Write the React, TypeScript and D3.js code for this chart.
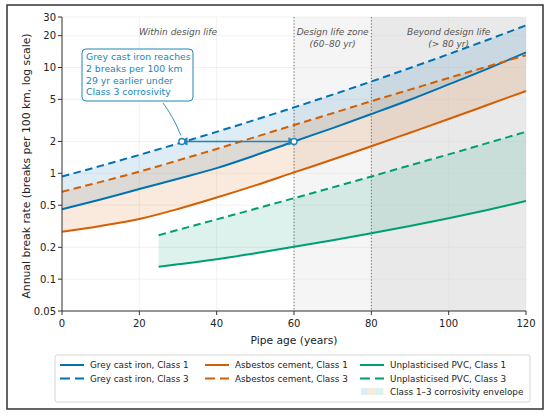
import * as d3 from "d3";

// pipe age (years) at which the break rates were read
const ages = [0, 10, 20, 30, 40, 50, 60, 70, 80, 90, 100, 110, 120];
const pvcAges = [25, 30, 40, 50, 60, 70, 80, 90, 100, 110, 120];

// breaks per 100 km per year
const ciClass1 = [0.457, 0.566, 0.711, 0.89, 1.12, 1.48, 2.0, 2.675, 3.63, 4.96, 6.92, 9.7, 13.9];
const ciClass3 = [0.933, 1.176, 1.494, 1.911, 2.465, 3.204, 4.196, 5.542, 7.375, 9.89, 13.37, 18.2, 25.0];
const acClass1 = [0.28, 0.318, 0.37, 0.46, 0.59, 0.769, 1.02, 1.35, 1.8, 2.42, 3.26, 4.42, 6.0];
const acClass3 = [0.67, 0.83, 1.037, 1.325, 1.7, 2.205, 2.86, 3.7, 4.8, 6.18, 7.96, 10.2, 13.06];
const pvcClass1 = [0.131, 0.138, 0.154, 0.176, 0.202, 0.233, 0.271, 0.318, 0.376, 0.451, 0.547];
const pvcClass3 = [0.26, 0.292, 0.367, 0.462, 0.582, 0.736, 0.933, 1.19, 1.51, 1.93, 2.47];

const xTicks = [0, 20, 40, 60, 80, 100, 120];
const yTicks = [0.05, 0.1, 0.2, 0.5, 1, 2, 5, 10, 20, 30];

const zoneEdges = [60, 80];
const annotationRate = 2;
const annotationAgeClass3 = 31;
const annotationAgeClass1 = 60;
const annotationLines = ["Grey cast iron reaches", "2 breaks per 100 km", "29 yr earlier under", "Class 3 corrosivity"];

const BLUE = "#0072B2";
const ORANGE = "#D55E00";
const GREEN = "#009E73";
const NOTE = "#2384b8";

const W = 550;
const H = 417;
const FONT = "DejaVu Sans, sans-serif";

interface Series {
  label: string;
  color: string;
  dashed: boolean;
  xs: number[];
  ys: number[];
}

const series: Series[] = [
  { label: "Grey cast iron, Class 1", color: BLUE, dashed: false, xs: ages, ys: ciClass1 },
  { label: "Grey cast iron, Class 3", color: BLUE, dashed: true, xs: ages, ys: ciClass3 },
  { label: "Asbestos cement, Class 1", color: ORANGE, dashed: false, xs: ages, ys: acClass1 },
  { label: "Asbestos cement, Class 3", color: ORANGE, dashed: true, xs: ages, ys: acClass3 },
  { label: "Unplasticised PVC, Class 1", color: GREEN, dashed: false, xs: pvcAges, ys: pvcClass1 },
  { label: "Unplasticised PVC, Class 3", color: GREEN, dashed: true, xs: pvcAges, ys: pvcClass3 },
];

const envelopes = [
  { color: BLUE, xs: ages, lo: ciClass1, hi: ciClass3 },
  { color: ORANGE, xs: ages, lo: acClass1, hi: acClass3 },
  { color: GREEN, xs: pvcAges, lo: pvcClass1, hi: pvcClass3 },
];

export default function App() {
  const margin = { top: 17, left: 62, right: 24, bottom: 106 };
  const x = d3.scaleLinear().domain([0, 120]).range([margin.left, W - margin.right]);
  const y = d3.scaleLog().domain([0.05, 30]).range([H - margin.bottom, margin.top]);
  const [x0, x1] = x.range();
  const [yb, yt] = y.range();

  const line = d3.line<[number, number]>()
    .x(d => x(d[0]))
    .y(d => y(d[1]))
    .curve(d3.curveMonotoneX);

  const area = d3.area<[number, number, number]>()
    .x(d => x(d[0]))
    .y0(d => y(d[1]))
    .y1(d => y(d[2]))
    .curve(d3.curveMonotoneX);

  // annotation geometry comes from the data scales
  const ay = y(annotationRate);
  const ax3 = x(annotationAgeClass3);
  const ax1 = x(annotationAgeClass1);

  const legendCols = [0, 2, 4].map((start, c) => ({ c, items: [series[start], series[start + 1]] }));
  const legendX = [60, 205, 360];
  const legendY = [365, 378.5, 391.5];

  return (
    <div style={{ position: "absolute", left: 0, top: 0 }}>
      <svg width={W} height={H} style={{ display: "block", fontFamily: FONT }}>
        <defs>
          <marker id="ah" viewBox="0 0 10 10" refX="2" refY="5" markerWidth="5.5" markerHeight="5.5" orient="auto-start-reverse">
            <path d="M0,0 L10,5 L0,10 z" fill={NOTE} />
          </marker>
        </defs>
        <rect x={0} y={0} width={W} height={H} fill="#fff" />
        <rect x={7} y={5} width={536} height={404} fill="none" stroke="#333" strokeWidth={1.5} />

        {/* design-life zones */}
        <rect x={x(zoneEdges[0])} y={yt} width={x(zoneEdges[1]) - x(zoneEdges[0])} height={yb - yt} fill="#f5f5f5" />
        <rect x={x(zoneEdges[1])} y={yt} width={x1 - x(zoneEdges[1])} height={yb - yt} fill="#e9e9e9" />

        {/* grid */}
        {yTicks.map(t => (
          <line key={"gy" + t} x1={x0} x2={x1} y1={y(t)} y2={y(t)} stroke="#d8d8d8" strokeWidth={0.6} strokeOpacity={0.55} />
        ))}
        {xTicks.map(t => (
          <line key={"gx" + t} x1={x(t)} x2={x(t)} y1={yt} y2={yb} stroke="#d8d8d8" strokeWidth={0.6} strokeOpacity={0.55} />
        ))}

        {zoneEdges.map(e => (
          <line key={"z" + e} x1={x(e)} x2={x(e)} y1={yt} y2={yb} stroke="#666" strokeWidth={1} strokeDasharray="1.2,2" />
        ))}

        {/* envelopes */}
        {envelopes.map((e, i) => (
          <path key={"env" + i} d={area(e.xs.map((a, k) => [a, e.lo[k], e.hi[k]] as [number, number, number])) || ""} fill={e.color} fillOpacity={0.13} />
        ))}

        {/* curves */}
        {series.map(s => (
          <path
            key={s.label}
            d={line(s.xs.map((a, k) => [a, s.ys[k]] as [number, number])) || ""}
            fill="none"
            stroke={s.color}
            strokeWidth={2}
            strokeDasharray={s.dashed ? "7.5,4.5" : undefined}
          />
        ))}

        {/* zone labels */}
        <g fontSize={9} fontStyle="italic" fill="#555" textAnchor="middle">
          <text x={x(30)} y={35}>Within design life</text>
          <text x={x(70)} y={35}>Design life zone</text>
          <text x={x(70)} y={46.5}>(60–80 yr)</text>
          <text x={x(100)} y={35}>Beyond design life</text>
          <text x={x(100)} y={46.5}>(&gt; 80 yr)</text>
        </g>

        {/* annotation */}
        <line x1={ax1 - 4} x2={ax3 + 4} y1={ay} y2={ay} stroke={NOTE} strokeWidth={1.5} markerEnd="url(#ah)" markerStart="url(#ah)" />
        <circle cx={ax3} cy={ay} r={3} fill="#fff" stroke={NOTE} strokeWidth={1.4} />
        <circle cx={ax1} cy={ay} r={3} fill="#fff" stroke={NOTE} strokeWidth={1.4} />
        <path d={`M163,103 Q173,116 ${ax3 - 1},${ay - 6}`} fill="none" stroke={NOTE} strokeWidth={0.9} />
        <rect x={82} y={49} width={111} height={52} rx={4} fill="#fff" stroke={NOTE} strokeWidth={1} />
        <g fontSize={9.3} fill={NOTE}>
          {annotationLines.map((t, i) => (
            <text key={t} x={86} y={60 + i * 11.8}>{t}</text>
          ))}
        </g>

        {/* axes */}
        <line x1={x0} x2={x0} y1={yt} y2={yb} stroke="#333" strokeWidth={1} />
        <line x1={x0} x2={x1} y1={yb} y2={yb} stroke="#333" strokeWidth={1} />
        {xTicks.map(t => (
          <g key={"xt" + t}>
            <line x1={x(t)} x2={x(t)} y1={yb} y2={yb + 4} stroke="#333" />
            <text x={x(t)} y={yb + 16} fontSize={10} textAnchor="middle" fill="#222">{t}</text>
          </g>
        ))}
        {yTicks.map(t => (
          <g key={"yt" + t}>
            <line x1={x0 - 4} x2={x0} y1={y(t)} y2={y(t)} stroke="#333" />
            <text x={x0 - 6} y={y(t) + 3.6} fontSize={10} textAnchor="end" fill="#222">{String(t)}</text>
          </g>
        ))}
        <text x={(x0 + x1) / 2} y={344} fontSize={10.7} textAnchor="middle" fill="#222">Pipe age (years)</text>
        <text transform={`translate(30,${(yt + yb) / 2 + 2}) rotate(-90)`} fontSize={10.8} textAnchor="middle" fill="#222">
          Annual break rate (breaks per 100 km, log scale)
        </text>

        {/* legend */}
        <rect x={55} y={355} width={475} height={47} fill="#fff" stroke="#ccc" strokeWidth={0.8} rx={2} />
        {legendCols.map(col => col.items.map((s, r) => (
          <g key={s.label} fontSize={8.8}>
            <line x1={legendX[col.c]} x2={legendX[col.c] + 24} y1={legendY[r]} y2={legendY[r]} stroke={s.color} strokeWidth={2} strokeDasharray={s.dashed ? "10,5" : undefined} />
            <text x={legendX[col.c] + 30} y={legendY[r] + 3.2} fill="#222">{s.label}</text>
          </g>
        )))}
        {envelopes.map((e, i) => (
          <rect key={"lp" + i} x={legendX[2] + 1 + i * 7.5} y={legendY[2] - 3.5} width={7.5} height={7} fill={e.color} fillOpacity={0.13} />
        ))}
        <text x={legendX[2] + 30} y={legendY[2] + 3.2} fontSize={8.8} fill="#222">Class 1–3 corrosivity envelope</text>
      </svg>
    </div>
  );
}
